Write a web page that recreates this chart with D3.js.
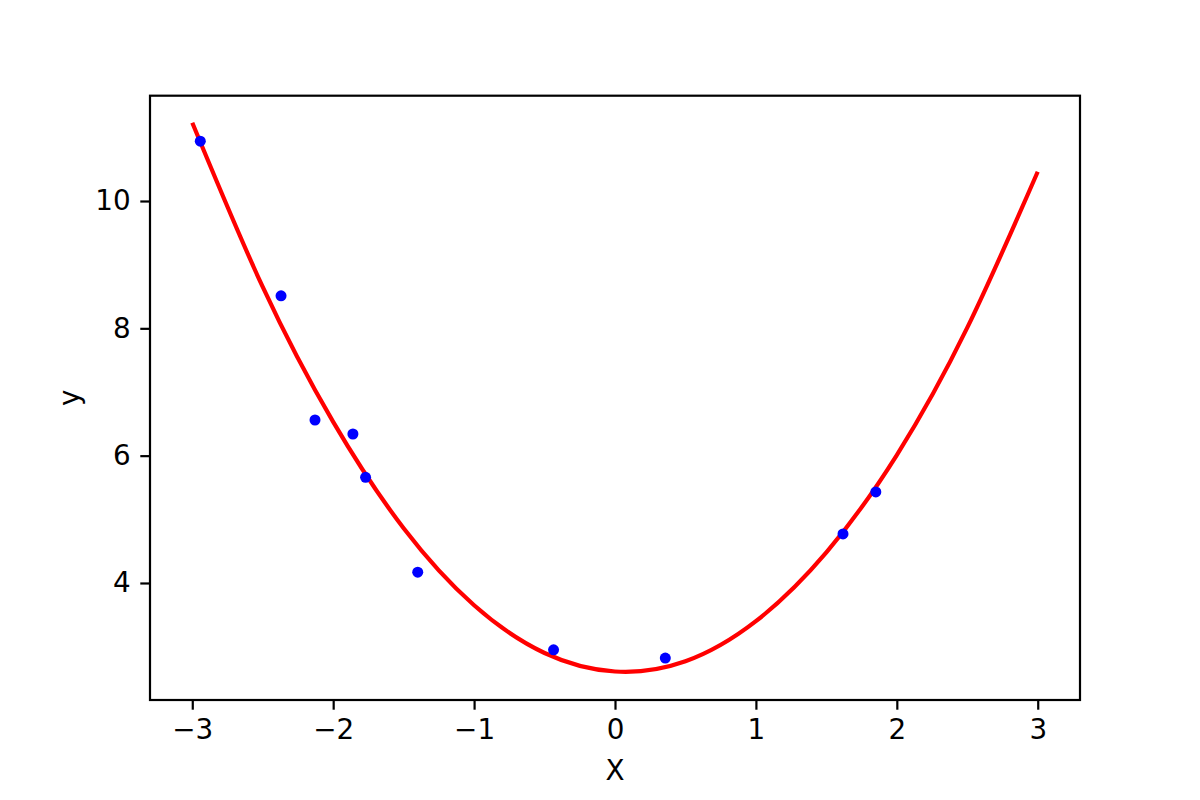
<!DOCTYPE html>
<html>
<head>
<meta charset="utf-8">
<script src="https://cdn.jsdelivr.net/npm/d3@7"></script>
<style>
  body { margin: 0; background: #fff; }
  text { font-family: "DejaVu Sans", sans-serif; }
</style>
</head>
<body>
<div id="chart"></div>
<script>
// scatter points
var pointX = [-2.943, -2.37, -2.129, -1.86, -1.77, -1.40, -0.436, 0.357, 1.618, 1.851];
var pointY = [10.94, 8.51, 6.56, 6.34, 5.66, 4.17, 2.95, 2.82, 4.77, 5.43];

// red fit curve, sampled by eye every half unit
var curveX = [-3, -2.5, -2, -1.5, -1, -0.5, 0, 0.5, 1, 1.5, 2, 2.5, 3];
var curveY = [11.23, 8.65, 6.53, 4.86, 3.65, 2.90, 2.61, 2.77, 3.40, 4.48, 6.01, 8.01, 10.46];

var xTicks = [-3, -2, -1, 0, 1, 2, 3];
var yTicks = [4, 6, 8, 10];

let W = 1200, H = 800;
let margin = {top: 95.7, right: 120, bottom: 100, left: 150};

let x = d3.scaleLinear()
    .domain([-3.3, 3.3])
    .range([margin.left, W - margin.right]);

let y = d3.scaleLinear()
    .domain([2.162, 11.654])
    .range([H - margin.bottom, margin.top]);

let fmt = d => (d < 0 ? "\u2212" + Math.abs(d) : String(d));

let svg = d3.select('#chart')
    .append('svg')
    .attr('width', W)
    .attr('height', H);

// clip to the axes box
svg.append('clipPath').attr('id', 'plotclip')
    .append('rect')
    .attr('x', margin.left).attr('y', margin.top)
    .attr('width', W - margin.left - margin.right)
    .attr('height', H - margin.top - margin.bottom);

let plot = svg.append('g').attr('clip-path', 'url(#plotclip)');

let line = d3.line()
    .x(d => x(d[0]))
    .y(d => y(d[1]))
    .curve(d3.curveNatural);

plot.append('path')
    .datum(curveX.map((v, i) => [v, curveY[i]]))
    .attr('d', line)
    .attr('fill', 'none')
    .attr('stroke', '#ff0000')
    .attr('stroke-width', 4.2);

plot.selectAll('.dot')
    .data(pointX.map((v, i) => [v, pointY[i]]))
    .enter().append('circle')
    .attr('class', 'dot')
    .attr('cx', d => x(d[0]))
    .attr('cy', d => y(d[1]))
    .attr('r', 5.5)
    .attr('fill', '#0000ff');

// axes
let xAxis = d3.axisBottom(x)
    .tickValues(xTicks)
    .tickFormat(fmt)
    .tickSize(9.7)
    .tickPadding(9.7);

let yAxis = d3.axisLeft(y)
    .tickValues(yTicks)
    .tickFormat(fmt)
    .tickSize(9.7)
    .tickPadding(9.7);

let gx = svg.append('g')
    .attr('transform', 'translate(0,' + (H - margin.bottom) + ')')
    .call(xAxis);

let gy = svg.append('g')
    .attr('transform', 'translate(' + margin.left + ',0)')
    .call(yAxis);

[gx, gy].forEach(g => {
    g.select('.domain').remove();
    g.selectAll('line').attr('stroke', '#000').attr('stroke-width', 2.2);
    g.selectAll('text')
        .attr('font-family', '"DejaVu Sans", sans-serif')
        .attr('font-size', 27.8)
        .attr('fill', '#000');
});

// frame
svg.append('rect')
    .attr('x', margin.left).attr('y', margin.top)
    .attr('width', W - margin.left - margin.right)
    .attr('height', H - margin.top - margin.bottom)
    .attr('fill', 'none')
    .attr('stroke', '#000')
    .attr('stroke-width', 2.2);

// axis labels
svg.append('text')
    .attr('x', (margin.left + W - margin.right) / 2)
    .attr('y', 780)
    .attr('text-anchor', 'middle')
    .attr('font-size', 27.8)
    .text('X');

svg.append('text')
    .attr('transform', 'translate(79,' + ((margin.top + H - margin.bottom) / 2) + ') rotate(-90)')
    .attr('text-anchor', 'middle')
    .attr('font-size', 27.8)
    .text('y');
</script>
</body>
</html>
